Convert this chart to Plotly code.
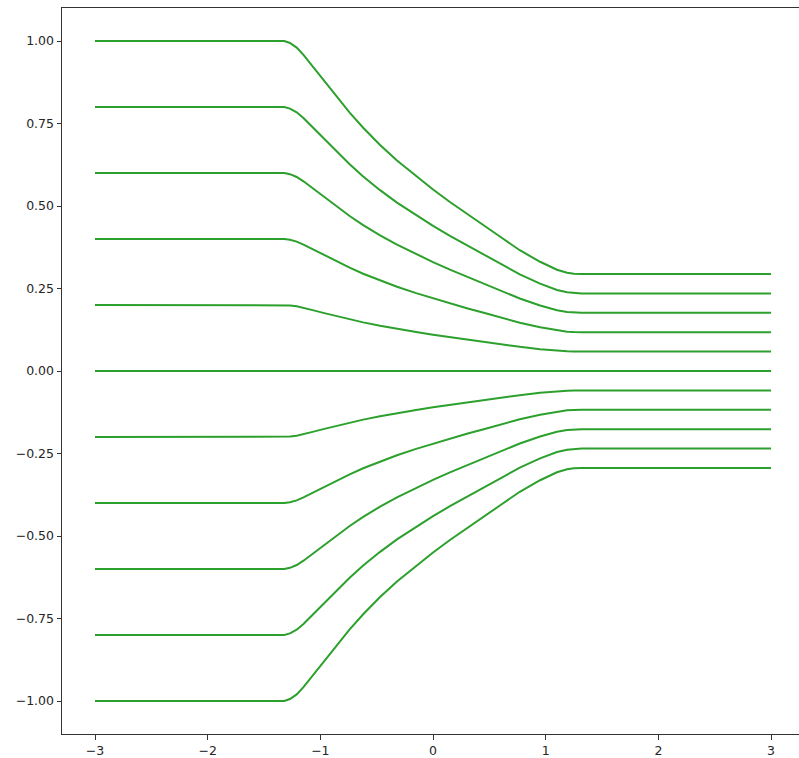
import plotly.graph_objects as go

# x positions and the shape of the top curve (y0 = 1.00)
x_vals = [-3.0, -2.0, -1.32, -1.27, -1.21, -1.15, -1.06, -0.974, -0.855, -0.74, -0.62,
          -0.47, -0.32, -0.15, 0.0, 0.15, 0.3, 0.45, 0.6, 0.77, 0.95, 1.10, 1.19,
          1.25, 1.32, 2.0, 3.0]
top_curve = [1.0, 1.0, 1.0, 0.994, 0.980, 0.958, 0.919, 0.881, 0.830, 0.783, 0.737,
             0.685, 0.638, 0.590, 0.550, 0.512, 0.476, 0.441, 0.406, 0.366, 0.331,
             0.307, 0.298, 0.295, 0.294, 0.294, 0.294]

# starting levels of the eleven lines
start_levels = [1.0, 0.8, 0.6, 0.4, 0.2, 0.0, -0.2, -0.4, -0.6, -0.8, -1.0]

x_ticks = [-3, -2, -1, 0, 1, 2, 3]
x_tick_text = ["\u22123", "\u22122", "\u22121", "0", "1", "2", "3"]
y_ticks = [-1.0, -0.75, -0.5, -0.25, 0.0, 0.25, 0.5, 0.75, 1.0]
y_tick_text = ["\u22121.00", "\u22120.75", "\u22120.50", "\u22120.25", "0.00",
               "0.25", "0.50", "0.75", "1.00"]

fig = go.Figure()
for s in start_levels:
    fig.add_trace(go.Scatter(
        x=x_vals, y=[s * f for f in top_curve], mode="lines",
        line=dict(color="#2ca02c", width=2, shape="linear"),
        showlegend=False, hoverinfo="skip"))

axis_common = dict(showgrid=False, zeroline=False, showline=True, linecolor="#333333",
                   linewidth=1, ticks="outside", ticklen=4.5, tickwidth=1,
                   tickcolor="#333333", automargin=False,
                   tickfont=dict(family="DejaVu Sans", size=12.5, color="#262626"))

fig.update_layout(
    width=799, height=758,
    margin=dict(l=62, r=0, t=8, b=24),
    paper_bgcolor="white", plot_bgcolor="white",
    xaxis=dict(range=[-3.293, 3.248], tickvals=x_ticks, ticktext=x_tick_text,
               mirror=True, **axis_common),
    yaxis=dict(range=[-1.1, 1.1], tickvals=y_ticks, ticktext=y_tick_text,
               **axis_common),
)

fig.write_html("out.html", config={"displayModeBar": False},
               post_script="document.body.style.margin='0';document.body.style.padding='0';")
